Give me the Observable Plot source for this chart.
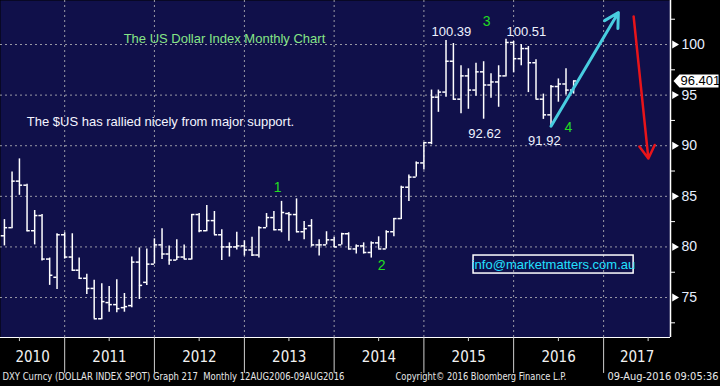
<!DOCTYPE html>
<html><head><meta charset="utf-8">
<script src="https://cdn.jsdelivr.net/npm/d3@7"></script>
<script src="https://cdn.jsdelivr.net/npm/@observablehq/plot@0.6"></script>
<style>
html,body{margin:0;padding:0;background:#000;}
#chart{width:720px;height:386px;overflow:hidden;}
</style></head><body><div id="chart"></div>
<script>
// ---- data: monthly OHLC of DXY (bar plotted at month end) ----
const months = [
  "2010-04","2010-05","2010-06","2010-07","2010-08","2010-09","2010-10","2010-11","2010-12",
  "2011-01","2011-02","2011-03","2011-04","2011-05","2011-06","2011-07","2011-08","2011-09","2011-10","2011-11","2011-12",
  "2012-01","2012-02","2012-03","2012-04","2012-05","2012-06","2012-07","2012-08","2012-09","2012-10","2012-11","2012-12",
  "2013-01","2013-02","2013-03","2013-04","2013-05","2013-06","2013-07","2013-08","2013-09","2013-10","2013-11","2013-12",
  "2014-01","2014-02","2014-03","2014-04","2014-05","2014-06","2014-07","2014-08","2014-09","2014-10","2014-11","2014-12",
  "2015-01","2015-02","2015-03","2015-04","2015-05","2015-06","2015-07","2015-08","2015-09","2015-10","2015-11","2015-12",
  "2016-01","2016-02","2016-03","2016-04","2016-05","2016-06","2016-07","2016-08"
];
const open = [
  81.1, 81.9, 86.5, 86.1, 81.6, 83.1, 78.8, 77.0, 81.2,
  79.0, 77.7, 76.9, 75.9, 72.9, 74.5, 74.3, 74.0, 74.2, 78.5, 76.5, 78.3,
  80.2, 79.3, 78.7, 79.0, 78.8, 83.2, 81.6, 82.6, 81.2, 80.0, 80.0, 80.1,
  79.7, 79.2, 81.9, 82.9, 81.7, 83.3, 83.2, 81.5, 82.1, 80.2, 80.2, 80.7,
  80.2, 81.3, 79.8, 80.1, 79.45, 80.4, 79.8, 81.5, 82.8, 85.9, 86.9, 88.3,
  90.3, 94.8, 95.3, 98.35, 94.6, 96.9, 95.5, 97.3, 96.0, 96.3, 96.9, 100.2,
  98.6, 99.6, 98.2, 94.6, 93.05, 95.85, 96.1, 95.5
];
const high = [
  82.7, 87.4, 88.7, 86.2, 83.6, 83.2, 78.9, 81.3, 81.4,
  81.3, 78.9, 77.3, 76.7, 76.35, 76.1, 76.75, 75.4, 79.0, 79.9, 79.8, 80.8,
  81.8, 80.1, 80.7, 80.2, 83.2, 83.3, 84.1, 83.5, 81.7, 80.4, 81.45, 80.6,
  80.96, 82.0, 83.3, 83.5, 84.5, 83.4, 84.75, 82.5, 82.7, 80.7, 81.5, 80.96,
  81.35, 81.4, 80.2, 80.4, 80.5, 81.0, 81.6, 82.8, 86.0, 87.1, 88.4, 90.3,
  95.5, 95.5, 100.39, 100.1, 97.9, 97.6, 98.15, 98.3, 97.1, 97.9, 100.51, 100.3,
  100.0, 99.8, 98.5, 95.1, 95.95, 96.6, 97.6, 96.4
];
const low = [
  80.1, 81.8, 85.1, 81.5, 80.2, 78.6, 76.2, 75.8, 78.8,
  77.6, 76.8, 75.3, 72.9, 72.8, 73.55, 73.5, 73.55, 74.0, 74.8, 76.2, 78.3,
  78.75, 78.2, 78.65, 78.75, 78.7, 81.4, 81.5, 81.2, 78.65, 79.0, 79.7, 79.1,
  79.05, 78.9, 81.9, 81.6, 81.4, 80.56, 81.4, 80.7, 80.0, 79.1, 80.2, 79.95,
  80.2, 79.7, 79.3, 79.3, 78.9, 79.8, 79.8, 81.0, 82.7, 84.5, 86.9, 87.6,
  90.1, 93.3, 94.8, 94.5, 93.15, 93.6, 94.9, 92.62, 94.7, 93.8, 96.8, 97.2,
  97.9, 95.25, 94.6, 92.6, 91.92, 94.3, 95.0, 95.1
];
const close = [
  81.9, 86.5, 86.1, 81.6, 83.1, 78.8, 77.2, 81.2, 79.0,
  77.7, 76.9, 75.9, 72.9, 74.6, 74.3, 73.9, 74.1, 78.5, 76.2, 78.3, 80.2,
  79.3, 78.7, 79.0, 78.8, 83.2, 81.6, 82.6, 81.2, 80.0, 80.0, 80.1, 79.7,
  79.2, 81.9, 82.9, 81.7, 83.4, 83.2, 81.5, 81.8, 80.2, 80.2, 80.7, 80.0,
  81.3, 79.8, 80.1, 79.45, 80.4, 79.8, 81.5, 82.8, 85.9, 86.9, 88.3, 90.3,
  94.8, 95.3, 98.35, 94.6, 96.9, 95.5, 97.3, 96.0, 96.3, 96.9, 100.2, 98.6,
  99.6, 98.2, 94.6, 93.05, 95.85, 96.1, 95.5, 96.4
];
const lastPrice = 96.401;

// ---- ticks ----
const yTicks = [75, 80, 85, 90, 95, 100];
const yMinor = [72.5, 77.5, 82.5, 87.5, 92.5, 97.5, 102.5];
const years = [2010, 2011, 2012, 2013, 2014, 2015, 2016, 2017];

// ---- annotations (data coordinates) ----
const peakLabels = ["100.39", "100.51", "92.62", "91.92"];
const peakDates = ["2015-04-23", "2016-02-22", "2015-09-05", "2016-05-05"];
const peakValues = [101.28, 101.28, 91.2, 90.5];
const waveLabels = ["1", "2", "3", "4"];
const waveDates = ["2013-05-16", "2014-07-13", "2015-09-13", "2016-08-11"];
const waveValues = [85.87, 78.16, 102.27, 91.8];
const titleText = "The US Dollar Index Monthly Chart";
const commentText = "The $US has rallied nicely from major support.";
const infoText = "info@marketmatters.com.au";
const footLeft = "DXY Curncy (DOLLAR INDEX SPOT) Graph 217  Monthly 12AUG2006-09AUG2016";
const footMid = "Copyright\u00A9 2016 Bloomberg Finance L.P.";
const footRight = "09-Aug-2016 09:05:36";
const upArrow = {x1: "2016-06-01", y1: 91.92, x2: "2017-03-02", y2: 103.16};
const downArrow = {x1: "2017-05-03", y1: 102.77, x2: "2017-07-02", y2: 88.73};

// ---- build ----
const P = d3.isoParse;
const bars = months.map((m, i) => ({
  date: d3.utcMonth.offset(P(m + "-01"), 1),
  open: open[i], high: high[i], low: low[i], close: close[i]
}));
const xDomain = [P("2010-04-15"), P("2017-09-30")];
const yDomain = [71.05, 104.35];
const yearSeps = years.slice(1).map(y => P(`${y}-01-01`));
const midYears = years.map(y => P(`${y}-07-01`));
const yearLabels = years.map(y => {
  const a = Math.max(+P(`${y}-01-01`), +xDomain[0]);
  const b = Math.min(+P(`${y + 1}-01-01`), +xDomain[1]);
  return {year: String(y), date: new Date((a + b) / 2)};
});
const peaks = peakLabels.map((t, i) => ({t, date: P(peakDates[i]), v: peakValues[i]}));
const waves = waveLabels.map((t, i) => ({t, date: P(waveDates[i]), v: waveValues[i]}));
const arrowRow = a => ({x1: P(a.x1), y1: a.y1, x2: P(a.x2), y2: a.y2});

const navy = "#10104a";
const grid = "#9a9aa6";
const narrow = "'Liberation Sans Narrow', 'Arial Narrow', 'DejaVu Sans Condensed', sans-serif";

// pentagon-shaped price tag, pointing left
const tagSymbol = {
  draw(ctx) {
    ctx.moveTo(-22, 0); ctx.lineTo(-16, -6.5); ctx.lineTo(23, -6.5);
    ctx.lineTo(23, 6.5); ctx.lineTo(-16, 6.5); ctx.closePath();
  }
};

const chart = Plot.plot({
  width: 720, height: 386,
  marginLeft: 0, marginRight: 50, marginTop: 0, marginBottom: 49,
  style: {background: "#000", fontFamily: "'Liberation Sans', Arial, sans-serif", fontSize: "13px"},
  x: {type: "utc", domain: xDomain, axis: null},
  y: {domain: yDomain, axis: null},
  marks: [
    Plot.frame({fill: navy, stroke: null}),
    Plot.ruleY(yTicks, {stroke: grid, strokeDasharray: "2,3"}),
    Plot.ruleX(yearSeps, {stroke: grid, strokeDasharray: "2,3"}),
    // OHLC bars
    Plot.ruleX(bars, {x: "date", y1: "low", y2: "high", stroke: "white", strokeWidth: 1.5}),
    Plot.ruleY(bars, {y: "open", x1: d => d3.utcDay.offset(d.date, -13), x2: "date", stroke: "white", strokeWidth: 1.5}),
    Plot.ruleY(bars, {y: "close", x1: "date", x2: d => d3.utcDay.offset(d.date, 13), stroke: "white", strokeWidth: 1.5}),
    // arrows
    Plot.arrow([arrowRow(upArrow)], {x1: "x1", y1: "y1", x2: "x2", y2: "y2", stroke: "#48cde0", strokeWidth: 3, headLength: 8, headAngle: 58}),
    Plot.arrow([arrowRow(downArrow)], {x1: "x1", y1: "y1", x2: "x2", y2: "y2", stroke: "#e8141a", strokeWidth: 2.5, headLength: 9, headAngle: 62}),
    // texts
    Plot.text(peaks, {x: "date", y: "v", text: "t", fill: "#eef2ff", fontSize: 13}),
    Plot.text(waves, {x: "date", y: "v", text: "t", fill: "#22dd22", fontSize: 14}),
    Plot.text([titleText], {x: () => P("2011-08-29"), y: () => 100.6, text: d => d, textAnchor: "start", fill: "#86e586", fontSize: 13}),
    Plot.text([commentText], {x: () => P("2010-07-31"), y: () => 92.4, text: d => d, textAnchor: "start", fill: "#f4f4ff", fontSize: 13}),
    Plot.rect([infoText], {x1: () => P("2015-07-22"), x2: () => P("2017-05-03"), y1: () => 79.15, y2: () => 77.37, fill: "none", stroke: "white", strokeWidth: 1.5}),
    Plot.text([infoText], {x: () => P("2016-06-11"), y: () => 78.26, text: d => d, fill: "#22e0ff", fontSize: 13}),
    // right axis
    Plot.ruleX([xDomain[1]], {stroke: "white", strokeWidth: 1.5}),
    Plot.ruleY([yDomain[0]], {stroke: "white", strokeWidth: 1}),
    Plot.axisY({ticks: yMinor, anchor: "right", tickSize: 4, tickFormat: () => "", stroke: "white"}),
    Plot.dot(yTicks, {y: d => d, frameAnchor: "right", symbol: "triangle", rotate: 90, r: 2.9, fill: "white", stroke: null, dx: 4}),
    Plot.axisY({ticks: yTicks, anchor: "right", tickSize: 0, tickPadding: 11, fill: "#e6eeff", fontSize: 14}),
    Plot.dot([lastPrice], {y: d => d, frameAnchor: "right", symbol: tagSymbol, fill: "white", stroke: null, dx: 25}),
    Plot.text([lastPrice], {y: d => d, frameAnchor: "right", text: d => d.toFixed(3), textAnchor: "start", dx: 10, fill: "#000", fontSize: 13}),
    // bottom axis
    Plot.ruleX(yearSeps, {y1: yDomain[0], y2: 67.5, stroke: "#cfcfcf"}),
    Plot.ruleX(midYears, {y1: yDomain[0], y2: 70.65, stroke: "#cfcfcf"}),
    Plot.text(yearLabels, {x: "date", text: "year", frameAnchor: "bottom", dy: 24, fill: "#f2f2f2", fontSize: 15, fontFamily: narrow}),
    Plot.text([footLeft], {frameAnchor: "bottom-left", text: d => d, dx: 2, dy: 42, textAnchor: "start", fill: "#e8e8e8", fontSize: 11, fontFamily: narrow}),
    Plot.text([footMid], {frameAnchor: "bottom-left", text: d => d, dx: 395, dy: 42, textAnchor: "start", fill: "#e8e8e8", fontSize: 11, fontFamily: narrow}),
    Plot.text([footRight], {frameAnchor: "bottom-right", text: d => d, dx: 48, dy: 42, textAnchor: "end", fill: "#e8e8e8", fontSize: 11, fontFamily: narrow})
  ]
});
// fit the condensed footer strings to the widths they take in the reference
const fits = [[footLeft, 342], [footMid, 171], [footRight, 111]];
d3.select(chart).selectAll("text").each(function () {
  const f = fits.find(([t]) => t === this.textContent);
  if (f) d3.select(this).attr("textLength", f[1]).attr("lengthAdjust", "spacingAndGlyphs");
});
document.getElementById("chart").append(chart);
</script>
</body></html>
